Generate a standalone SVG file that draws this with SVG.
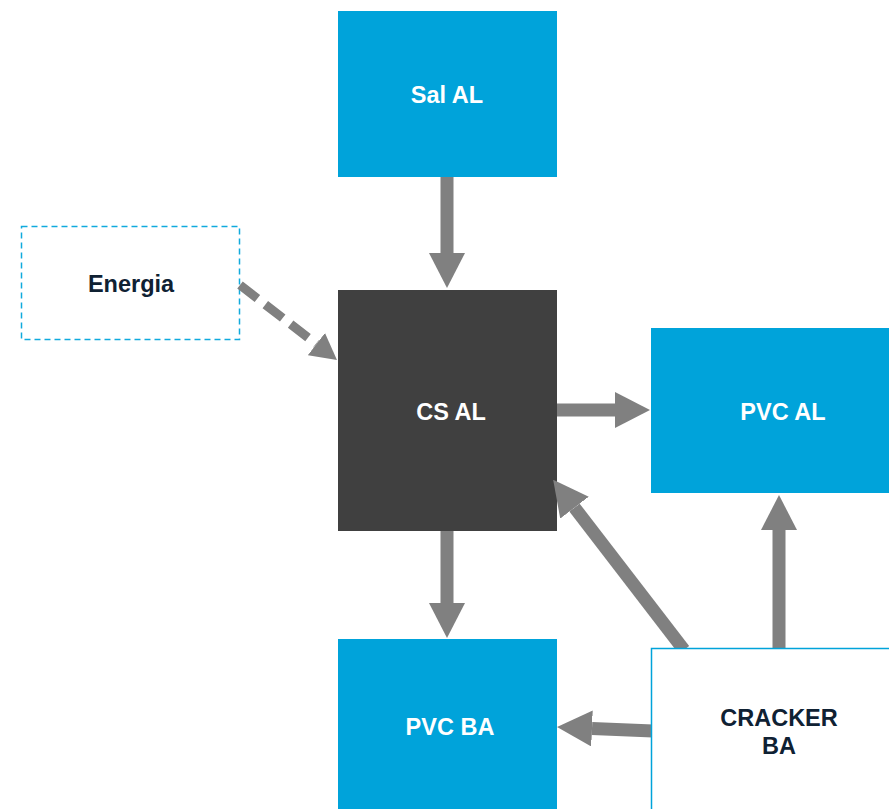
<svg xmlns="http://www.w3.org/2000/svg" width="889" height="809" viewBox="0 0 889 809">
<style>
.blue{fill:#00A3DA}
.dark{fill:#404040}
.lbl{font-family:"Liberation Sans",Arial,sans-serif;font-weight:bold;font-size:23.5px;text-anchor:middle;dominant-baseline:central}
.w{fill:#FFFFFF}
.n{fill:#0F2133}
.arr{stroke:#808080;stroke-width:13;fill:none}
.dash{stroke:#808080;stroke-width:9;fill:none;stroke-dasharray:22 10}
</style>
<defs>
<marker id="head" viewBox="0 0 35 36" refX="0" refY="18" markerWidth="35" markerHeight="36" markerUnits="userSpaceOnUse" orient="auto">
<path d="M0,0 L35,18 L0,36 Z" fill="#808080"/>
</marker>
<marker id="headS" viewBox="0 0 26 28" refX="0" refY="14" markerWidth="26" markerHeight="28" markerUnits="userSpaceOnUse" orient="auto">
<path d="M0,0 L26,14 L0,28 Z" fill="#808080"/>
</marker>
</defs>
<rect width="889" height="809" fill="#FFFFFF"/>
<g id="sal-al"><rect class="blue" x="338" y="11" width="219" height="166"/><text class="lbl w" x="447" y="95">Sal AL</text></g>
<g id="cs-al"><rect class="dark" x="338" y="290" width="219" height="241"/><text class="lbl w" x="451" y="412">CS AL</text></g>
<g id="pvc-al"><rect class="blue" x="651" y="328" width="238" height="165"/><text class="lbl w" x="783" y="412">PVC AL</text></g>
<g id="pvc-ba"><rect class="blue" x="338" y="639" width="219" height="170"/><text class="lbl w" x="450" y="727">PVC BA</text></g>
<g id="energia"><rect x="21.5" y="226.5" width="218" height="113" fill="#FFFFFF" stroke="#10AADD" stroke-width="1.5" stroke-dasharray="6 4"/><text class="lbl n" x="131" y="284">Energia</text></g>
<g id="connectors">
<line class="arr" x1="447" y1="177" x2="447" y2="253" marker-end="url(#head)"/>
<line class="arr" x1="447" y1="531" x2="447" y2="603" marker-end="url(#head)"/>
<line class="arr" x1="557" y1="410" x2="615" y2="410" marker-end="url(#head)"/>
<line class="arr" x1="684" y1="650" x2="574.5" y2="507.6" marker-end="url(#head)"/>
<line class="arr" x1="779" y1="650" x2="779" y2="530" marker-end="url(#head)"/>
<line class="arr" x1="653" y1="731" x2="592" y2="728.5" marker-end="url(#head)"/>
<line class="dash" x1="240" y1="285" x2="316.4" y2="344.1" marker-end="url(#headS)"/>
</g>
<g id="cracker-ba"><rect x="651.5" y="648.5" width="240" height="163" fill="#FFFFFF" stroke="#00A3DA" stroke-width="1.5"/><text class="lbl n" x="779" y="718">CRACKER</text><text class="lbl n" x="779" y="746">BA</text></g>
</svg>
